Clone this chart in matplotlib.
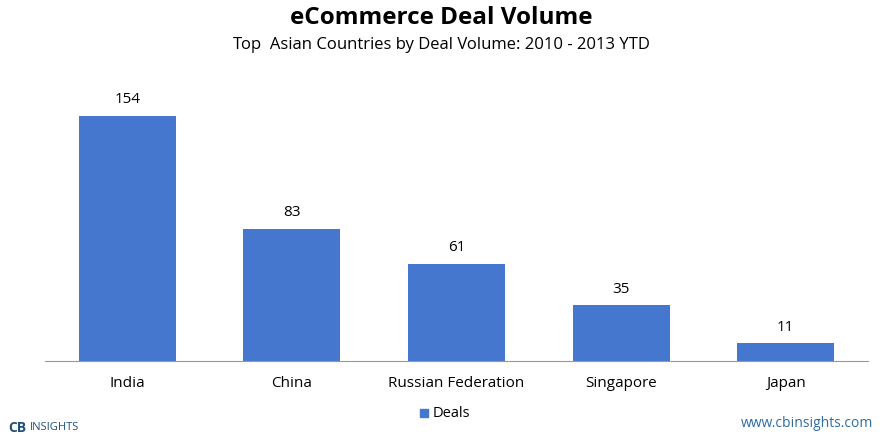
import matplotlib
matplotlib.use("Agg")
import matplotlib.pyplot as plt
from matplotlib.patches import Rectangle

categories = ["India", "China", "Russian Federation", "Singapore", "Japan"]
deals = [154, 83, 61, 35, 11]

W, H = 883, 435
fig = plt.figure(figsize=(W/100, H/100), dpi=100)
ax = fig.add_axes([45/W, 1-362/H, 823/W, 292/H])
bars = ax.bar(range(len(categories)), deals, width=0.59, color="#4677CF", label="Deals")
ax.set_xlim(-0.5, len(categories)-0.5)
ax.set_ylim(0, 183.5)
for i, v in enumerate(deals):
    ax.text(i, v + 6, str(v), ha="center", va="bottom", fontsize=11, fontfamily="Open Sans")
ax.set_yticks([])
ax.set_xticks(range(len(categories)))
ax.set_xticklabels(categories, fontsize=11, fontfamily="Open Sans")
ax.tick_params(axis="x", length=0, pad=10)
for s in ["top", "right", "left"]:
    ax.spines[s].set_visible(False)
ax.spines["bottom"].set_color("#999999")

fig.text(0.5, 1-18/H, "eCommerce Deal Volume", ha="center", va="center",
         fontsize=17.5, fontweight="bold", fontfamily="Open Sans")
fig.text(0.5, 1-45/H, "Top  Asian Countries by Deal Volume: 2010 - 2013 YTD", ha="center",
         va="center", fontsize=12, fontfamily="Open Sans")

# legend
fig.patches.append(Rectangle((420/W, 1-418/H), 8/W, 8/H, transform=fig.transFigure,
                             color="#4677CF"))
fig.text(433/W, 1-414/H, "Deals", va="center", fontsize=10.5, fontfamily="Open Sans")

fig.text(8/W, 1-428/H, "CB", fontsize=10, fontweight="bold", color="#1F4E79",
         va="center", fontfamily="Open Sans")
fig.text(30/W, 1-428/H, "INSIGHTS", fontsize=8, color="#1F4E79", va="center",
         fontfamily="Open Sans")
fig.text(873/W, 1-424/H, "www.cbinsights.com", fontsize=10, color="#2E6DA4",
         ha="right", va="center", fontfamily="Open Sans")

fig.savefig("out.png", dpi=100)
